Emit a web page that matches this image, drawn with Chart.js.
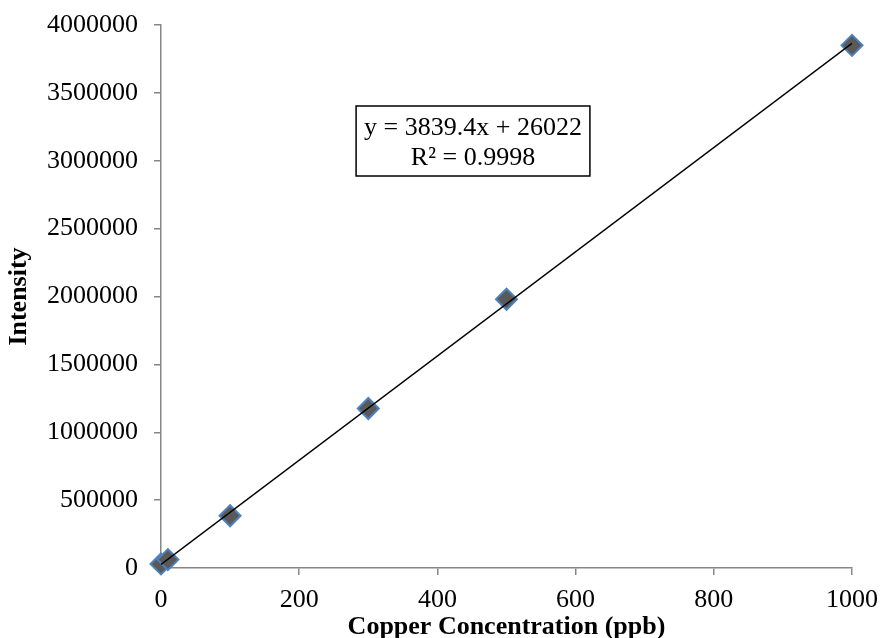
<!DOCTYPE html>
<html>
<head>
<meta charset="utf-8">
<script src="https://cdn.jsdelivr.net/npm/chart.js@4.4.1/dist/chart.umd.min.js"></script>
<style>
  html, body { margin: 0; padding: 0; background: #fff; }
  #wrap { width: 882px; height: 638px; }
</style>
</head>
<body>
<div id="wrap"><canvas id="cal"></canvas></div>
<script>
// copper calibration standards (ppb) and measured intensity
var concentration = [0, 10, 100, 300, 500, 1000];
var intensity = [30000, 62000, 385000, 1175000, 1980000, 3850000];

// linear fit reported by the spreadsheet
var slope = 3839.4;
var intercept = 26022;
var rSquared = 0.9998;

var fitLine = [
    { x: concentration[0], y: slope * concentration[0] + intercept },
    { x: concentration[concentration.length - 1], y: slope * concentration[concentration.length - 1] + intercept }
];

var points = concentration.map(function (c, i) {
    return { x: c, y: intensity[i] };
});

var axisGrey = '#868686';
var serif = "'Liberation Serif', 'Times New Roman', serif";

// equation box in the upper middle of the plot
var equationBox = {
    id: 'equationBox',
    afterDraw: function (chart) {
        var ctx = chart.ctx;
        var line1 = 'y = ' + slope + 'x + ' + intercept;
        var line2 = 'R\u00b2 = ' + rSquared;
        ctx.save();
        ctx.font = '26px ' + serif;
        var w = Math.max(ctx.measureText(line1).width, ctx.measureText(line2).width) + 16;
        var cx = 473, top = 106, h = 70;
        ctx.fillStyle = '#fff';
        ctx.fillRect(cx - w / 2, top, w, h);
        ctx.strokeStyle = '#000';
        ctx.lineWidth = 1.5;
        ctx.strokeRect(cx - w / 2, top, w, h);
        ctx.fillStyle = '#000';
        ctx.textAlign = 'center';
        ctx.textBaseline = 'middle';
        ctx.fillText(line1, cx, top + 22);
        ctx.fillText(line2, cx, top + 52);
        ctx.restore();
    }
};

var chart = new Chart(document.getElementById('cal'), {
    type: 'scatter',
    data: {
        datasets: [
            {
                type: 'line',
                label: 'Linear fit',
                data: fitLine,
                borderColor: '#000',
                borderWidth: 1.5,
                pointRadius: 0,
                fill: false,
                order: 0
            },
            {
                label: 'Intensity',
                data: points,
                pointStyle: 'rectRot',
                pointRadius: 10.5,
                pointBackgroundColor: '#595959',
                pointBorderColor: '#4f81bd',
                pointBorderWidth: 2,
                clip: false,
                order: 1
            }
        ]
    },
    plugins: [equationBox],
    options: {
        responsive: true,
        maintainAspectRatio: false,
        animation: false,
        layout: { padding: { top: 25, right: 30, bottom: 0, left: 0 } },
        plugins: {
            legend: { display: false },
            tooltip: { enabled: false }
        },
        scales: {
            x: {
                type: 'linear',
                min: 0,
                max: 1000,
                ticks: {
                    stepSize: 200,
                    color: '#000',
                    font: { family: serif, size: 26 },
                    padding: 10,
                    maxRotation: 0,
                    callback: function (v) { return String(v); }
                },
                grid: { drawOnChartArea: false, drawTicks: true, tickLength: 7, color: axisGrey, lineWidth: 1.5 },
                border: { color: axisGrey, width: 1.5 },
                title: {
                    display: true,
                    text: 'Copper Concentration (ppb)',
                    color: '#000',
                    font: { family: serif, size: 26, weight: 'bold' },
                    padding: { top: 0, bottom: -5 }
                },
                afterFit: function (scale) {
                    scale.height = 70;
                    scale.paddingLeft = 0;
                    scale.paddingRight = 0;
                }
            },
            y: {
                min: 0,
                max: 4000000,
                ticks: {
                    stepSize: 500000,
                    color: '#000',
                    font: { family: serif, size: 26 },
                    padding: 16,
                    callback: function (v) { return String(v); }
                },
                grid: { drawOnChartArea: false, drawTicks: true, tickLength: 7, color: axisGrey, lineWidth: 1.5 },
                border: { color: axisGrey, width: 1.5 },
                title: {
                    display: true,
                    text: 'Intensity',
                    color: '#000',
                    font: { family: serif, size: 26, weight: 'bold' },
                    padding: { top: 4, bottom: 0 }
                },
                afterFit: function (scale) {
                    scale.width = 161;
                    scale.paddingTop = 0;
                    scale.paddingBottom = 0;
                }
            }
        }
    }
});
</script>
</body>
</html>
